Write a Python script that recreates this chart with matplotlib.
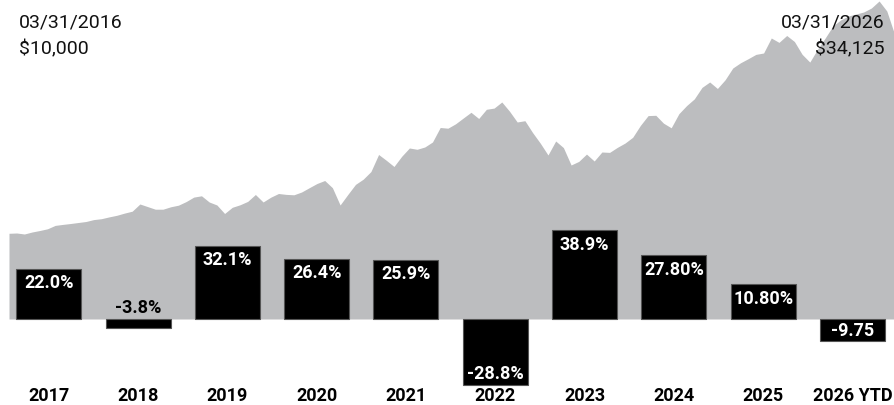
import matplotlib
matplotlib.use('Agg')
import matplotlib.pyplot as plt
import numpy as np

# ---------------- data ----------------
years = ['2017', '2018', '2019', '2020', '2021', '2022', '2023', '2024', '2025', '2026 YTD']
return_labels = ['22.0%', '-3.8%', '32.1%', '26.4%', '25.9%', '-28.8%', '38.9%', '27.80%', '10.80%', '-9.75']
# heights of the bars as drawn in the picture (%)
bar_heights = [22.0, -3.8, 32.1, 26.4, 25.9, -28.8, 38.9, 27.8, 15.2, -9.75]

# growth of $10,000
growth = [
    10000, 10036, 9915, 10157, 10339, 10545, 10956, 11077, 11186, 11307,
    11428, 11658, 11767, 11985, 12179, 12445, 12675, 13547, 13232, 12917,
    12917, 13208, 13402, 13837, 14382, 14539, 13789, 13426, 12397, 13147,
    13450, 13861, 14697, 13789, 14370, 14818, 14709, 14661, 14999, 15520,
    16028, 16391, 15520, 13426, 14697, 15919, 16549, 17469, 19539, 18837,
    18086, 19321, 20326, 20168, 20447, 21052, 22807, 22722, 23255, 23957,
    24647, 23897, 25010, 25156, 25894, 24780, 23473, 23630, 22190, 20907,
    19478, 21173, 20374, 18268, 18704, 19587, 18752, 19841, 19793, 20398,
    20919, 21621, 23061, 24248, 24284, 23328, 22771, 24478, 25458, 26269,
    27661, 28315, 27528, 28581, 30010, 30639, 31135, 31656, 31825, 33641,
    33108, 33944, 33217, 31668, 30724, 32273, 33641, 35094, 35820, 36304,
    36546, 36788, 37273, 38120, 36909, 34125,
]
start_date, start_value = '03/31/2016', '$10,000'
end_date, end_value = '03/31/2026', '$34,125'

# ---------------- styling ----------------
plt.rcParams['font.family'] = ['Roboto', 'DejaVu Sans']
GREY = '#bcbdbf'
W, H = 895, 406
zero_px = 320           # vertical pixel of the bar baseline (from top)
px_per_pct = 2.285

fig = plt.figure(figsize=(W / 100, H / 100), dpi=100)

# area chart (above the bar baseline)
ax_area = fig.add_axes([0, (H - zero_px) / H, 1, zero_px / H])
x = np.arange(len(growth))
area_floor = -374
ax_area.set_xlim(-1.168, len(growth) - 1 + 0.065)
ax_area.set_ylim(area_floor, 38362)
ax_area.fill_between(x, growth, area_floor, color=GREY, lw=0, zorder=1)
ax_area.axis('off')

# bars
ax = fig.add_axes([0, 0, 1, 1])
ax.patch.set_alpha(0)
ax.set_xlim(-0.547, 9.477)
ax.set_ylim(-(H - zero_px) / px_per_pct, zero_px / px_per_pct)
pos = np.arange(len(years))
ax.bar(pos, bar_heights, width=0.728, color='black', edgecolor='#555555',
       linewidth=0.8, zorder=3)
ax.axis('off')

for i, (h, lab) in enumerate(zip(bar_heights, return_labels)):
    bar_px = abs(h) * px_per_pct
    if h >= 0:
        ax.annotate(lab, (i, h), xytext=(0, -3.2), textcoords='offset points',
                    ha='center', va='top', color='white', fontsize=13,
                    fontweight='bold', zorder=4)
    elif bar_px < 16:
        ax.annotate(lab, (i, 0), xytext=(0, 1.8), textcoords='offset points',
                    ha='center', va='bottom', color='black', fontsize=13,
                    fontweight='bold', zorder=4)
    else:
        ax.annotate(lab, (i, h), xytext=(0, 1.8), textcoords='offset points',
                    ha='center', va='bottom', color='white', fontsize=13,
                    fontweight='bold', zorder=4)

xt = ax.get_xaxis_transform()
for i, yr in enumerate(years):
    ax.text(i, 4.5 / H, yr, transform=xt, ha='center', va='baseline',
            fontsize=13, fontweight='bold', color='black')

# corner annotations
fig.text(19 / W, 1 - 27.5 / H, start_date, fontsize=14, va='baseline', ha='left', color='#111111')
fig.text(19 / W, 1 - 54.3 / H, start_value, fontsize=14, va='baseline', ha='left', color='#111111')
fig.text(885 / W, 1 - 27.5 / H, end_date, fontsize=14, va='baseline', ha='right', color='#111111')
fig.text(885 / W, 1 - 54.3 / H, end_value, fontsize=14, va='baseline', ha='right', color='#111111')

fig.savefig('out.png', dpi=100)
